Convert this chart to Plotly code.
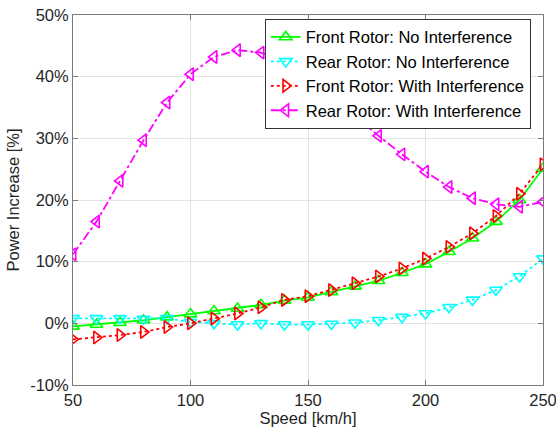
import plotly.graph_objects as go

speed = [50, 60, 70, 80, 90, 100, 110, 120, 130, 140, 150, 160, 170, 180, 190, 200, 210, 220, 230, 240, 250]

front_no = [-0.5, -0.2, 0.1, 0.5, 1.0, 1.5, 2.0, 2.4, 3.0, 3.7, 4.2, 5.1, 6.0, 6.9, 8.2, 9.6, 11.6, 13.8, 16.5, 20.0, 25.1]
rear_no = [0.8, 0.8, 0.8, 0.7, 0.8, 0.2, 0.0, -0.2, 0.0, -0.2, -0.2, -0.1, 0.1, 0.5, 1.0, 1.6, 2.6, 3.8, 5.4, 7.6, 10.5]
front_with = [-2.6, -2.3, -1.9, -1.4, -0.6, 0.0, 0.8, 1.6, 2.6, 3.8, 4.4, 5.4, 6.5, 7.6, 8.9, 10.5, 12.4, 14.6, 17.4, 21.0, 25.8]
rear_with = [11.2, 16.5, 23.1, 29.7, 35.8, 40.4, 43.2, 44.3, 43.9, 42.4, 40.2, 37.2, 33.6, 30.4, 27.4, 24.6, 22.1, 20.3, 19.3, 18.9, 19.7]

names = ["Front Rotor: No Interference", "Rear Rotor: No Interference",
         "Front Rotor: With Interference", "Rear Rotor: With Interference"]
series = [front_no, rear_no, front_with, rear_with]
colors = ["#00FF00", "#00FFFF", "#FF0000", "#FF00FF"]
dashes = ["solid", "dot", "dot", "dashdot"]
symbols = ["triangle-up-open", "triangle-down-open", "triangle-right-open", "triangle-left-open"]

fig = go.Figure()
for n, s, c, d, m in zip(names, series, colors, dashes, symbols):
    fig.add_trace(go.Scatter(
        x=speed, y=s, name=n, mode="lines+markers",
        line=dict(color=c, width=1.8, dash=d),
        marker=dict(symbol=m, size=11, color=c, line=dict(color=c, width=1.6)),
    ))

axis_common = dict(
    showgrid=True, gridcolor="#e3e3e3", gridwidth=1,
    showline=True, linecolor="#7a7a7a", linewidth=1, mirror="ticks",
    ticks="inside", ticklen=5, tickcolor="#7a7a7a",
    zeroline=False, ticklabeloverflow="allow", automargin=False,
    tickfont=dict(family="Liberation Sans, Arial", size=16.5, color="#262626"),
    title_font=dict(family="Liberation Sans, Arial", size=16.5, color="#262626"),
)

fig.update_xaxes(range=[50, 250], tickvals=[50, 100, 150, 200, 250],
                 title_text="Speed [km/h]", title_standoff=2, **axis_common)
fig.update_yaxes(range=[-10, 50], tickvals=[-10, 0, 10, 20, 30, 40, 50],
                 ticktext=["-10%", "0%", "10%", "20%", "30%", "40%", "50%"],
                 title_text="Power Increase [%]", title_standoff=6, **axis_common)

fig.update_layout(
    width=556, height=433,
    margin=dict(l=73, r=13, t=15, b=48),
    paper_bgcolor="white", plot_bgcolor="white",
    font=dict(family="Liberation Sans, Arial", size=16.5, color="#262626"),
    legend=dict(
        x=0.974, y=0.99, xanchor="right", yanchor="top",
        bgcolor="white", bordercolor="#333333", borderwidth=1,
        font=dict(family="Liberation Sans, Arial", size=16.5, color="#000000"),
        tracegroupgap=0, itemwidth=30,
    ),
)

fig.write_html("out.html")
